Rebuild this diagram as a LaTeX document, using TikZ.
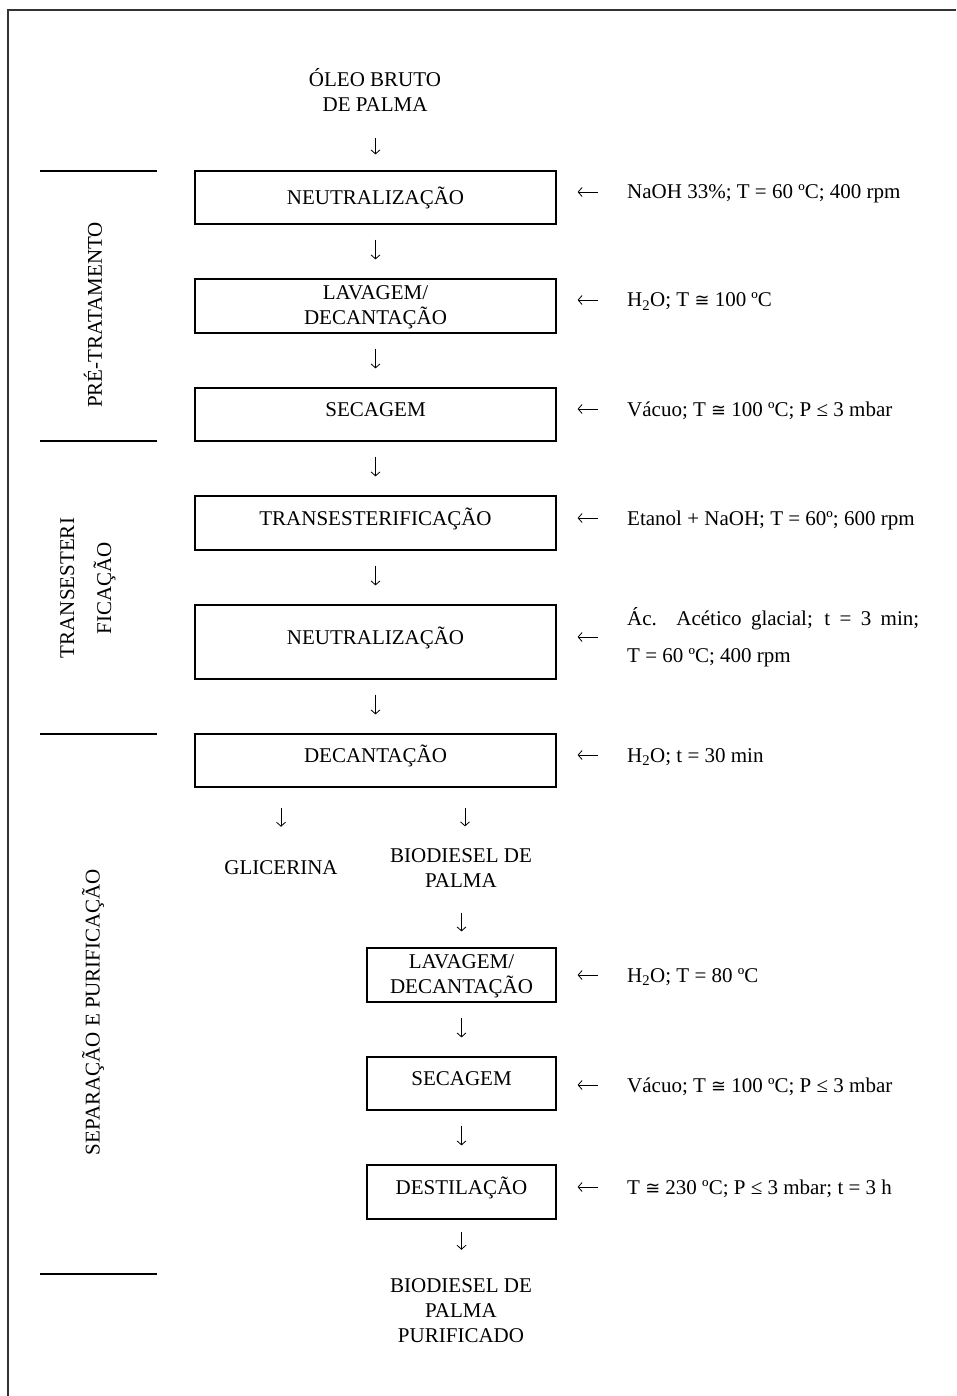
\documentclass[tikz,border=0pt]{standalone}
\usepackage{fontspec}
\setmainfont{Liberation Serif}
\newfontfamily\symf{DejaVu Sans}[Scale=0.85]
\newcommand{\cngt}{{\symf ≅}}
\usetikzlibrary{arrows.meta,calc}
\begin{document}
\begin{tikzpicture}[x=1pt,y=-1pt,
  font=\fontsize{21}{25}\selectfont,
  box/.style={draw, line width=1.2pt, inner sep=0pt, align=center},
  wide/.style={box, minimum width=361pt},
  narrow/.style={box, minimum width=189pt},
  up/.style={text height=14pt, text depth=10pt},
  lbl/.style={inner sep=0pt, align=center},
  cond/.style={inner sep=0pt, anchor=west, text height=14pt, text depth=0pt},
  arr/.style={line width=0.8pt, -{Straight Barb[length=4pt,width=9pt]}},
  darr/.style={arr, shorten <=15pt, shorten >=19pt},
  harr/.style={arr, shorten <=29pt, shorten >=21pt},
  sep/.style={line width=1.2pt},
  frame/.style={line width=2pt, black!80}]
\useasboundingbox (0,0) rectangle (956,1396);
\draw[frame] (8,1396) -- (8,10) -- (956,10);

% side separators
\draw[sep] (40,171) -- (157,171);
\draw[sep] (40,441) -- (157,441);
\draw[sep] (40,734) -- (157,734);
\draw[sep] (40,1274) -- (157,1274);

% side labels
\node[lbl, rotate=90] (pre) at (93,315) {PRÉ-TRATAMENTO};
\node[lbl, rotate=90, font=\fontsize{21}{37}\selectfont] (tra) at (88,588) {TRANSESTERI\\FICAÇÃO};
\node[lbl, rotate=90] (spu) at (93,1012) {SEPARAÇÃO E PURIFICAÇÃO};

% main column
\node[lbl] (oleo) at (375,90) {ÓLEO BRUTO\\DE PALMA};
\node[wide, minimum height=53pt] (n1) at (375.5,197.5) {NEUTRALIZAÇÃO};
\node[wide, minimum height=54pt] (n2) at (375.5,306) {\rule{0pt}{17pt}LAVAGEM/\\DECANTAÇÃO};
\node[wide, minimum height=53pt, up] (n3) at (375.5,414.5) {SECAGEM};
\node[wide, minimum height=54pt, up] (n4) at (375.5,523) {TRANSESTERIFICAÇÃO};
\node[wide, minimum height=74pt, up] (n5) at (375.5,642) {NEUTRALIZAÇÃO};
\node[wide, minimum height=53pt, up] (n6) at (375.5,760.5) {DECANTAÇÃO};
\node[lbl] (glic) at (281,868) {GLICERINA};
\node[lbl] (bio) at (461,868) {BIODIESEL DE\\PALMA};
\node[narrow, minimum height=54pt] (n7) at (461.5,975) {\rule{0pt}{17pt}LAVAGEM/\\DECANTAÇÃO};
\node[narrow, minimum height=53pt, up] (n8) at (461.5,1083.5) {SECAGEM};
\node[narrow, minimum height=54pt, up] (n9) at (461.5,1192) {DESTILAÇÃO};
\node[lbl] (fin) at (461,1311) {BIODIESEL DE\\PALMA\\PURIFICADO};

% conditions
\node[cond] (c1) at (627,192) {NaOH 33\%; T = 60 ºC; 400 rpm};
\node[cond] (c2) at (627,300) {H\textsubscript{2}O; T \cngt{} 100 ºC};
\node[cond] (c3) at (627,409) {Vácuo; T \cngt{} 100 ºC; P ≤ 3 mbar};
\node[cond] (c4) at (627,518) {Etanol + NaOH; T = 60º; 600 rpm};
\node[inner sep=0pt, anchor=west, text width=292pt, align=justify,
      font=\fontsize{21}{37}\selectfont] (c5) at (627,637)
      {Ác. Acético glacial; t = 3 min;\linebreak T = 60 ºC; 400 rpm};
\node[cond] (c6) at (627,755) {H\textsubscript{2}O; t = 30 min};
\node[cond] (c7) at (627,975) {H\textsubscript{2}O; T = 80 ºC};
\node[cond] (c8) at (627,1085) {Vácuo; T \cngt{} 100 ºC; P ≤ 3 mbar};
\node[cond] (c9) at (627,1187) {T \cngt{} 230 ºC; P ≤ 3 mbar; t = 3 h};

% vertical arrows
\draw[arr, shorten <=26pt, shorten >=16pt] (oleo.south -| n1) -- (n1.north);
\draw[darr] (n1.south) -- (n2.north);
\draw[darr] (n2.south) -- (n3.north);
\draw[darr] (n3.south) -- (n4.north);
\draw[darr] (n4.south) -- (n5.north);
\draw[darr] (n5.south) -- (n6.north);
\draw[arr, shorten <=20pt, shorten >=34pt] (glic |- n6.south) -- (glic.north);
\draw[arr, shorten <=20pt, shorten >=22pt] ([xshift=4pt]bio |- n6.south) -- ([xshift=4pt]bio.north);
\draw[arr, shorten <=25pt, shorten >=16pt] (bio.south -| n7) -- (n7.north);
\draw[darr] (n7.south) -- (n8.north);
\draw[darr] (n8.south) -- (n9.north);
\draw[arr, shorten <=12pt, shorten >=29pt] (n9.south) -- (fin.north -| n9);

% horizontal arrows
\draw[harr] (c1.west) -- (c1.west -| n1.east);
\draw[harr] (c2.west) -- (c2.west -| n2.east);
\draw[harr] (c3.west) -- (c3.west -| n3.east);
\draw[harr] (c4.west) -- (c4.west -| n4.east);
\draw[harr] (c5.west) -- (c5.west -| n5.east);
\draw[harr] (c6.west) -- (c6.west -| n6.east);
\draw[harr] (c7.west) -- (c7.west -| n7.east);
\draw[harr] (c8.west) -- (c8.west -| n8.east);
\draw[harr] (c9.west) -- (c9.west -| n9.east);
\end{tikzpicture}
\end{document}
